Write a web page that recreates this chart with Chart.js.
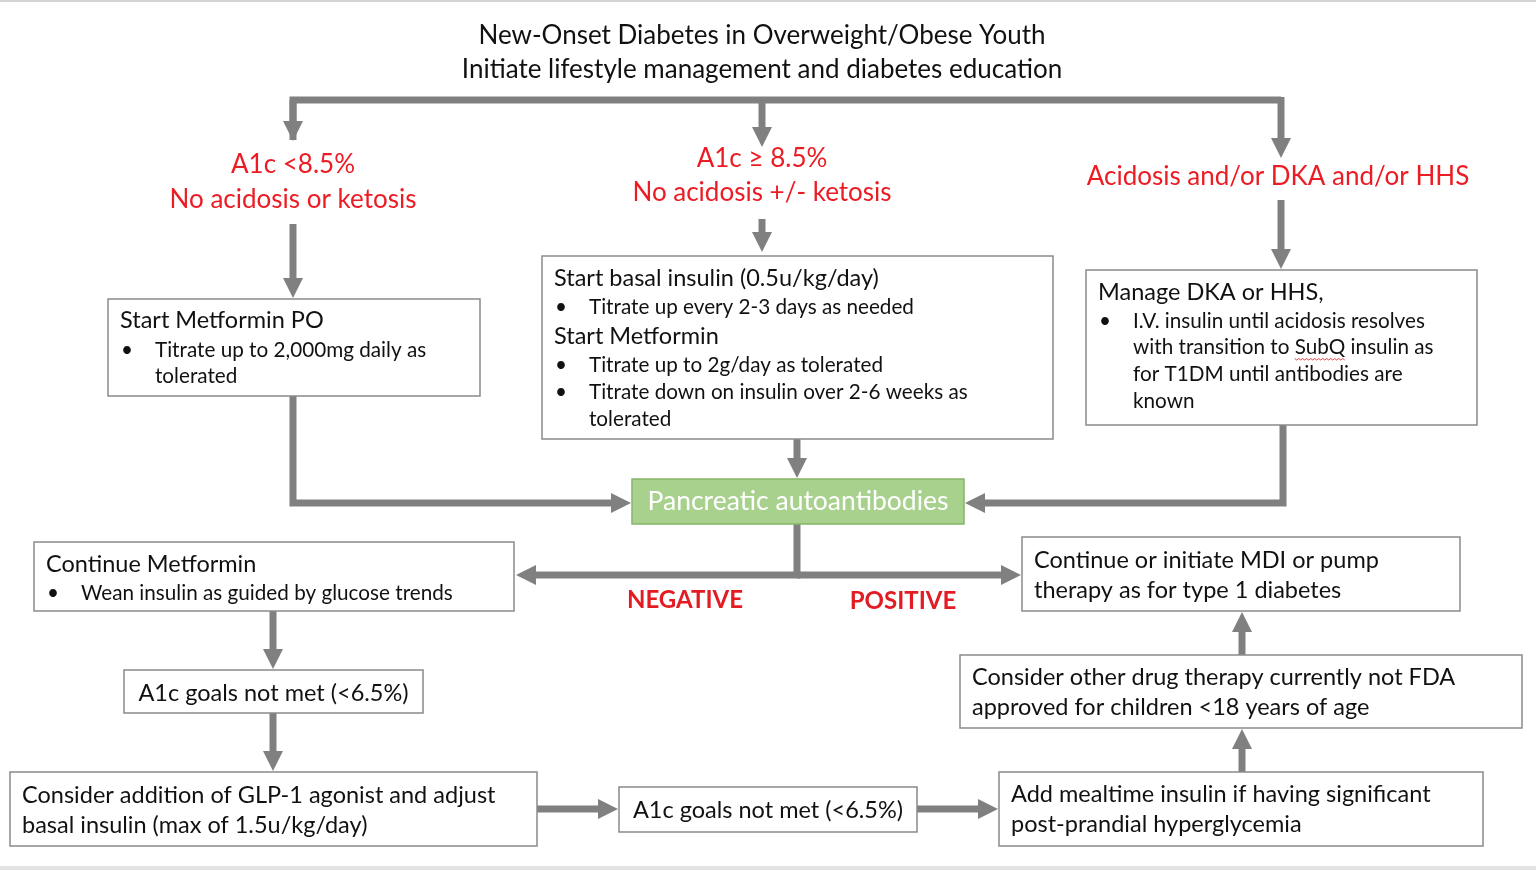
<!DOCTYPE html>
<html>
<head>
<meta charset="utf-8">
<script src="https://cdn.jsdelivr.net/npm/chart.js@4.4.1/dist/chart.umd.min.js"></script>
<style>
  html, body { margin: 0; padding: 0; background: #fff; overflow: hidden; }
  #wrap { position: relative; width: 1536px; height: 870px; }
</style>
</head>
<body>
<div id="wrap"><canvas id="flowChart"></canvas></div>
<script>
// Heading of the chart
const titleLines = ['New-Onset Diabetes in Overweight/Obese Youth', 'Initiate lifestyle management and diabetes education'];
const titleY = [36, 70];

// Red branch conditions (one entry per branch)
const branchLabels = [
    ['A1c <8.5%', 'No acidosis or ketosis'],
    ['A1c \u2265 8.5%', 'No acidosis +/- ketosis'],
    ['Acidosis and/or DKA and/or HHS']
];
const branchX = [293, 762, 1278];
const branchY = [[165, 200], [159, 193], [177]];

// Step boxes: text ('• ' = bullet, '  ' = bullet continuation, '=' = centred)
const boxText = [
    ['Start Metformin PO', '• Titrate up to 2,000mg daily as', '  tolerated'],
    ['Start basal insulin (0.5u/kg/day)', '• Titrate up every 2-3 days as needed', 'Start Metformin',
     '• Titrate up to 2g/day as tolerated', '• Titrate down on insulin over 2-6 weeks as', '  tolerated'],
    ['Manage DKA or HHS,', '• I.V. insulin until acidosis resolves', '  with transition to SubQ insulin as',
     '  for T1DM until antibodies are', '  known'],
    ['Continue Metformin', '• Wean insulin as guided by glucose trends'],
    ['Continue or initiate MDI or pump', 'therapy as for type 1 diabetes'],
    ['=A1c goals not met (<6.5%)'],
    ['Consider addition of GLP-1 agonist and adjust', 'basal insulin (max of 1.5u/kg/day)'],
    ['=A1c goals not met (<6.5%)'],
    ['Add mealtime insulin if having significant', 'post-prandial hyperglycemia'],
    ['Consider other drug therapy currently not FDA', 'approved for children <18 years of age']
];
// Box geometry in chart units [left, top, right, bottom]
const boxRect = [
    [108, 299, 480, 396],
    [542, 256, 1053, 439],
    [1086, 270, 1477, 425],
    [34, 542, 514, 611],
    [1022, 537, 1460, 611],
    [124, 670, 423, 713],
    [10, 772, 537, 846],
    [619, 787, 917, 832],
    [999, 772, 1483, 846],
    [960, 655, 1522, 728]
];
const boxLineY = [
    [320, 350, 376],
    [278, 307, 336, 365, 392, 419],
    [292, 321, 347, 374, 401],
    [564, 593],
    [560, 590],
    [693],
    [795, 825],
    [810],
    [794, 824],
    [677, 707]
];

// Central test box
const testLabel = 'Pancreatic autoantibodies';
const testRect = [632, 479, 964, 524];

// Result labels under the split
const resultLabels = ['NEGATIVE', 'POSITIVE'];
const resultX = [685, 903];
const resultY = [600, 601];

// Connectors: polyline points, last point gets an arrowhead when flagged
const connectors = [
    { pts: [[293, 140], [293, 100], [1281, 100]], head: false },
    { pts: [[293, 100], [293, 141]], head: true },
    { pts: [[762, 100], [762, 147]], head: true },
    { pts: [[1281, 97], [1281, 158]], head: true },
    { pts: [[293, 224], [293, 298]], head: true },
    { pts: [[762, 219], [762, 252]], head: true },
    { pts: [[1281, 200], [1281, 269]], head: true },
    { pts: [[293, 396], [293, 503], [631, 503]], head: true },
    { pts: [[797, 439], [797, 478]], head: true },
    { pts: [[1283, 425], [1283, 503], [965, 503]], head: true },
    { pts: [[797, 524], [797, 575], [516, 575]], head: true },
    { pts: [[797, 575], [1021, 575]], head: true },
    { pts: [[273, 611], [273, 669]], head: true },
    { pts: [[273, 713], [273, 771]], head: true },
    { pts: [[537, 809], [618, 809]], head: true },
    { pts: [[917, 809], [998, 809]], head: true },
    { pts: [[1242, 772], [1242, 729]], head: true },
    { pts: [[1242, 655], [1242, 612]], head: true }
];

const FONT = 'Lato, "Open Sans", sans-serif';
const GREY = '#808080';
const RED = '#ec1c24';

function drawArrow(ctx, pts, head) {
    const n = pts.length;
    const headLen = 20, headHalf = 10;
    const [tx, ty] = pts[n - 1];
    const [px, py] = pts[n - 2];
    const len = Math.hypot(tx - px, ty - py);
    const ux = (tx - px) / len, uy = (ty - py) / len;
    ctx.save();
    ctx.strokeStyle = GREY;
    ctx.fillStyle = GREY;
    ctx.lineWidth = 7;
    ctx.lineJoin = 'miter';
    ctx.lineCap = 'butt';
    ctx.beginPath();
    ctx.moveTo(pts[0][0], pts[0][1]);
    for (let i = 1; i < n - 1; i++) ctx.lineTo(pts[i][0], pts[i][1]);
    if (head) ctx.lineTo(tx - ux * (headLen - 1), ty - uy * (headLen - 1));
    else ctx.lineTo(tx, ty);
    ctx.stroke();
    if (head) {
        const bx = tx - ux * headLen, by = ty - uy * headLen;
        ctx.beginPath();
        ctx.moveTo(tx, ty);
        ctx.lineTo(bx - uy * headHalf, by + ux * headHalf);
        ctx.lineTo(bx + uy * headHalf, by - ux * headHalf);
        ctx.closePath();
        ctx.fill();
    }
    ctx.restore();
}

const flowPlugin = {
    id: 'flowPlugin',
    afterDraw(chart) {
        const ctx = chart.ctx;
        const sx = v => chart.scales.x.getPixelForValue(v);
        const sy = v => chart.scales.y.getPixelForValue(v);

        // frame lines of the original slide
        ctx.save();
        ctx.fillStyle = '#d4d4d4';
        ctx.fillRect(0, sy(0), chart.width, 2);
        ctx.fillStyle = '#e3e3e3';
        ctx.fillRect(0, sy(866), chart.width, 4);
        ctx.restore();

        // connectors
        connectors.forEach(c => drawArrow(ctx, c.pts.map(p => [sx(p[0]), sy(p[1])]), c.head));

        ctx.save();
        ctx.textBaseline = 'middle';

        // title
        ctx.fillStyle = '#111';
        ctx.textAlign = 'center';
        ctx.font = '26px ' + FONT;
        titleLines.forEach((t, i) => ctx.fillText(t, sx(762), sy(titleY[i])));

        // red branch labels
        ctx.fillStyle = RED;
        ctx.font = '26px ' + FONT;
        branchLabels.forEach((lines, b) => {
            lines.forEach((t, i) => ctx.fillText(t, sx(branchX[b]), sy(branchY[b][i])));
        });

        // boxes
        const headFont = '23.5px ' + FONT;
        const bulletFont = '20.7px ' + FONT;
        boxRect.forEach((r, b) => {
            const x0 = sx(r[0]), y0 = sy(r[1]), x1 = sx(r[2]), y1 = sy(r[3]);
            ctx.fillStyle = '#fff';
            ctx.fillRect(x0, y0, x1 - x0, y1 - y0);
            ctx.strokeStyle = '#8a8a8a';
            ctx.lineWidth = 1.5;
            ctx.strokeRect(x0, y0, x1 - x0, y1 - y0);
            ctx.fillStyle = '#111';
            boxText[b].forEach((t, i) => {
                const y = sy(boxLineY[b][i]);
                if (t.startsWith('=')) {
                    ctx.font = headFont;
                    ctx.textAlign = 'center';
                    ctx.fillText(t.slice(1), (x0 + x1) / 2, y);
                } else if (t.startsWith('• ')) {
                    ctx.font = bulletFont;
                    ctx.textAlign = 'left';
                    ctx.fillText('\u2022', x0 + 13, y);
                    ctx.fillText(t.slice(2), x0 + 47, y);
                } else if (t.startsWith('  ')) {
                    ctx.font = bulletFont;
                    ctx.textAlign = 'left';
                    const s = t.slice(2);
                    ctx.fillText(s, x0 + 47, y);
                    const k = s.indexOf('SubQ');
                    if (k >= 0) {
                        // spell-check squiggle under "SubQ"
                        const wx = x0 + 47 + ctx.measureText(s.slice(0, k)).width;
                        const ww = ctx.measureText('SubQ').width;
                        ctx.save();
                        ctx.strokeStyle = '#e04040';
                        ctx.lineWidth = 1;
                        ctx.beginPath();
                        for (let d = 0; d <= ww; d += 2) {
                            const yy = y + 12 + ((d / 2) % 2 ? 1 : -0.5);
                            if (d === 0) ctx.moveTo(wx + d, yy); else ctx.lineTo(wx + d, yy);
                        }
                        ctx.stroke();
                        ctx.restore();
                    }
                } else {
                    ctx.font = headFont;
                    ctx.textAlign = 'left';
                    ctx.fillText(t, x0 + 12, y);
                }
            });
        });

        // central test box
        const g0 = sx(testRect[0]), g1 = sy(testRect[1]), g2 = sx(testRect[2]), g3 = sy(testRect[3]);
        ctx.fillStyle = '#a9d18e';
        ctx.fillRect(g0, g1, g2 - g0, g3 - g1);
        ctx.strokeStyle = '#87b56a';
        ctx.lineWidth = 1.5;
        ctx.strokeRect(g0, g1, g2 - g0, g3 - g1);
        ctx.fillStyle = '#fff';
        ctx.textAlign = 'center';
        ctx.font = '26.5px ' + FONT;
        ctx.fillText(testLabel, (g0 + g2) / 2, (g1 + g3) / 2);

        // NEGATIVE / POSITIVE
        ctx.fillStyle = '#e31b23';
        ctx.font = 'bold 24px ' + FONT;
        resultLabels.forEach((t, i) => ctx.fillText(t, sx(resultX[i]), sy(resultY[i])));
        ctx.restore();
    }
};

new Chart(document.getElementById('flowChart').getContext('2d'), {
    type: 'scatter',
    data: {
        datasets: [{
            data: boxRect.map(r => ({ x: (r[0] + r[2]) / 2, y: (r[1] + r[3]) / 2 })),
            pointRadius: 0,
            pointHoverRadius: 0
        }]
    },
    options: {
        responsive: true,
        maintainAspectRatio: false,
        animation: false,
        events: [],
        layout: { padding: 0 },
        plugins: {
            legend: { display: false },
            tooltip: { enabled: false }
        },
        scales: {
            x: { type: 'linear', min: 0, max: 1536, display: false },
            y: { type: 'linear', min: 0, max: 870, reverse: true, display: false }
        }
    },
    plugins: [flowPlugin]
});
</script>
</body>
</html>
